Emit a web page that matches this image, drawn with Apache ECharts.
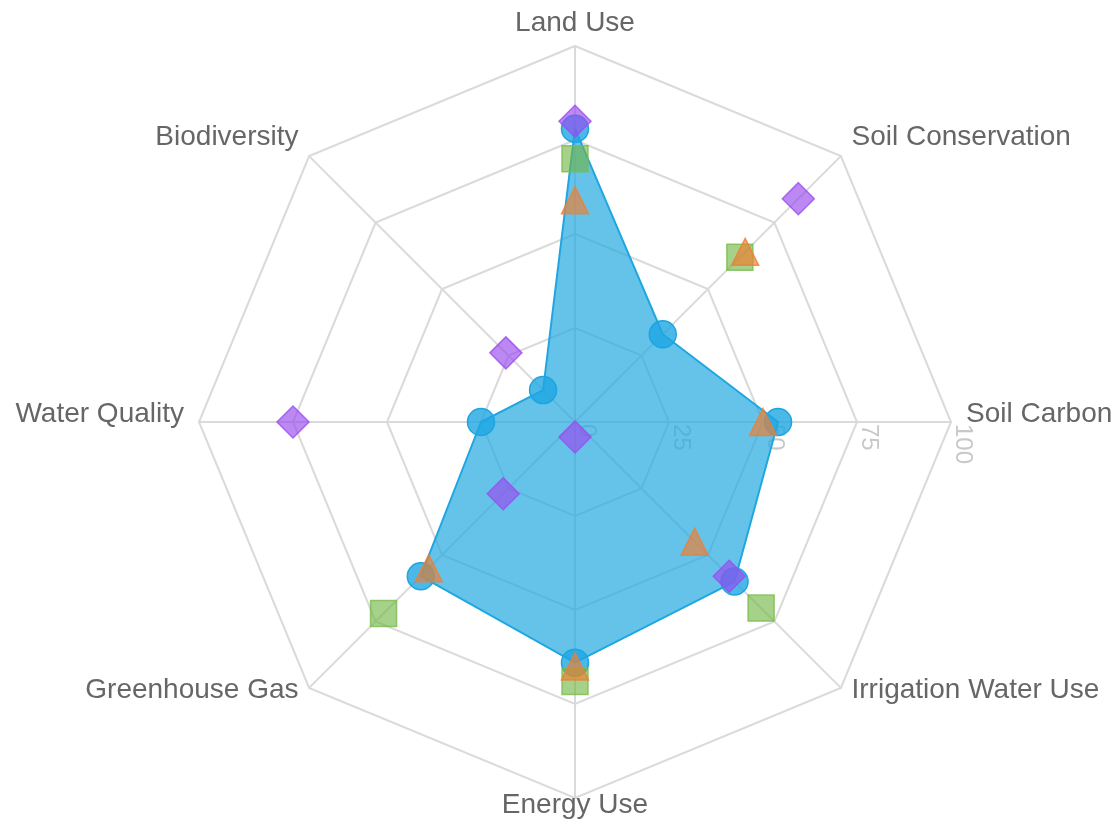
<!DOCTYPE html>
<html><head><meta charset="utf-8">
<script src="https://cdn.jsdelivr.net/npm/echarts@6/dist/echarts.min.js"></script>
<style>html,body{margin:0;padding:0;background:#fff}#c{width:1120px;height:825px}</style>
</head><body><div id="c"></div>
<script>
// categories in clockwise order starting at the top
const categories = ['Land Use', 'Soil Conservation', 'Soil Carbon', 'Irrigation Water Use', 'Energy Use', 'Greenhouse Gas', 'Water Quality', 'Biodiversity'];
const radiusTicks = [0, 25, 50, 75, 100];
const seriesBlue = [78, 33, 54, 60, 64, 58, 25, 12];
const seriesOrange = [59, 64, 50, 45, 65, 55, null, null];
const seriesGreen = [70, 62, null, 70, 69, 72, null, null];
const seriesPurple = [80, 84, null, 58, 4, 27, 75, 26];

const FONT = '"Liberation Sans", Arial, sans-serif';
const CX = 575, CY = 422, R = 376;

// ECharts radar runs counter-clockwise: reorder to keep the clockwise layout
const radarOrder = [0].concat(categories.map((c, i) => i).slice(1).reverse());
// polar angle axis starts at the right (Soil Carbon) and runs clockwise
const angleData = categories.slice(2).concat(categories.slice(0, 2));

function scatterData(vals) {
  return categories.map((c, i) => [vals[i], c]).filter(d => d[0] !== null);
}

const chart = echarts.init(document.getElementById('c'), null, {renderer: 'canvas'});
chart.setOption({
  backgroundColor: '#ffffff',
  animation: false,
  radar: {
    center: [CX, CY],
    radius: R,
    startAngle: 90,
    splitNumber: 4,
    shape: 'polygon',
    nameGap: 15,
    indicator: radarOrder.map(i => ({name: categories[i], min: radiusTicks[0], max: radiusTicks[radiusTicks.length - 1]})),
    axisName: {
      color: '#666666', fontSize: 28, fontFamily: FONT, verticalAlign: 'middle',
      formatter: function (name) { return '{n|' + name + '}\n{s| }'; },
      rich: {
        n: {color: '#666666', fontSize: 28, fontFamily: FONT, lineHeight: 32},
        s: {fontSize: 2, lineHeight: 16}
      }
    },
    splitLine: {lineStyle: {color: '#dadada', width: 2}},
    splitArea: {show: false},
    axisLine: {lineStyle: {color: '#dadada', width: 2}},
    axisTick: {show: false},
    axisLabel: {show: false}
  },
  polar: {center: [CX, CY], radius: R},
  angleAxis: {
    type: 'category', data: angleData, startAngle: 0, clockwise: true, boundaryGap: false,
    axisLine: {show: false}, axisTick: {show: false}, axisLabel: {show: false}, splitLine: {show: false}
  },
  radiusAxis: {
    type: 'value', min: radiusTicks[0], max: radiusTicks[radiusTicks.length - 1], interval: radiusTicks[1] - radiusTicks[0],
    axisLine: {show: false}, axisTick: {show: false}, splitLine: {show: false},
    axisLabel: {rotate: -90, margin: -2, align: 'left', verticalAlign: 'bottom', color: '#c8c8c8', fontSize: 24, fontFamily: FONT}
  },
  series: [
    {
      type: 'radar',
      z: 2,
      symbol: 'circle', symbolSize: 27,
      lineStyle: {color: '#1da5e0', width: 2},
      areaStyle: {color: '#24a9e1', opacity: 0.7},
      itemStyle: {color: 'rgba(30,166,226,0.8)', borderColor: '#1da5e0', borderWidth: 1.5},
      data: [{value: radarOrder.map(i => seriesBlue[i])}]
    },
    {
      type: 'scatter', coordinateSystem: 'polar', z: 3,
      symbol: 'rect', symbolSize: 26,
      itemStyle: {color: 'rgba(112,182,66,0.78)', borderColor: '#79bb4c', borderWidth: 1.5},
      data: scatterData(seriesGreen)
    },
    {
      type: 'scatter', coordinateSystem: 'polar', z: 4,
      symbol: 'triangle', symbolSize: 27,
      itemStyle: {color: 'rgba(236,127,52,0.85)', borderColor: '#ec7f34', borderWidth: 1.5},
      data: scatterData(seriesOrange)
    },
    {
      type: 'scatter', coordinateSystem: 'polar', z: 5,
      symbol: 'diamond', symbolSize: 32,
      itemStyle: {color: 'rgba(152,74,238,0.82)', borderColor: '#9a4ef0', borderWidth: 1.5},
      data: scatterData(seriesPurple)
    }
  ]
});
</script>
</body></html>
